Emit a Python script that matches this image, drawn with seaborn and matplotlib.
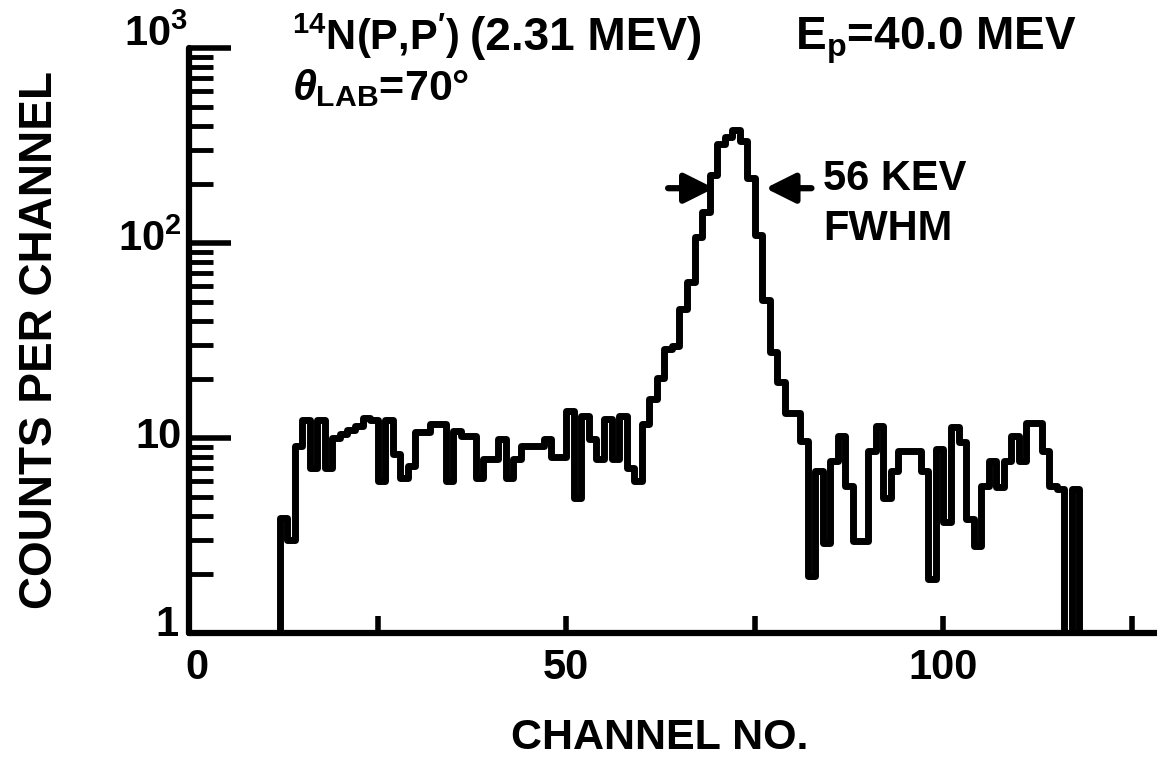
import numpy as np
import pandas as pd
import matplotlib
matplotlib.use("Agg")
import matplotlib.pyplot as plt
from matplotlib.ticker import LogLocator, NullFormatter
from matplotlib.transforms import ScaledTranslation
import seaborn as sns

# ---- data ----
first_channel = 11
counts = [
    0,                                                     # 11
    3.9, 3.0, 9.1, 12.3, 7.0, 12.3, 7.0, 10.0, 10.5,       # 12-20
    11.0, 11.5, 12.7, 12.3, 6.0, 12.3, 8.3, 6.2, 7.2, 10.7,  # 21-30
    10.7, 11.8, 11.8, 6.0, 10.8, 10.2, 10.2, 6.2, 7.8, 7.8,  # 31-40
    9.9, 6.2, 7.8, 9.1, 9.1, 9.1, 9.9, 8.0, 8.0, 13.8,       # 41-50
    4.9, 13.0, 9.9, 7.8, 12.5, 7.8, 13.0, 7.0, 6.0, 11.8,    # 51-60
    15.8, 20.4, 28.5, 29.5, 46, 63, 107, 145, 223, 323,      # 61-70
    350, 380, 335, 215, 110, 51, 27.5, 19.3, 13.5, 13.5,     # 71-80
    9.6, 1.95, 6.8, 2.9, 7.6, 10.2, 5.7, 2.95, 2.95, 8.6,    # 81-90
    11.5, 4.9, 6.8, 8.6, 8.6, 8.6, 6.8, 1.9, 8.8, 3.7,       # 91-100
    11.4, 9.5, 3.85, 2.8, 5.7, 7.6, 5.6, 7.6, 10.2, 7.6,     # 101-110
    12.0, 12.0, 8.6, 5.7, 5.5, 0, 5.5, 0,                    # 111-118
]
x_tick_positions = [0, 25, 50, 75, 100, 125]
x_tick_labels = ["0", "", "50", "", "100", ""]
y_tick_positions = [1, 10, 100, 1000]
y_tick_labels = ["1", "10", r"$\mathbf{10^2}$", r"$\mathbf{10^3}$"]
fwhm_level = 191
fwhm_left = (63.5, 69.6)
fwhm_right = (82.5, 76.4)

title_parts = [r"$^{\mathbf{14}}$N(P,P$^{\prime}$)", "(2.31 MEV)", r"E$_{\mathbf{p}}$=40.0 MEV"]
angle_text = r"$\theta_{\mathbf{LAB}}$=70°"
width_texts = ["56 KEV", "FWHM"]
x_label = "CHANNEL NO."
y_label = "COUNTS PER CHANNEL"

# ---- style ----
sns.set_style("ticks")
FONT = "Liberation Sans"
plt.rcParams["font.family"] = [FONT, "DejaVu Sans"]
plt.rcParams["font.weight"] = "bold"
plt.rcParams["text.color"] = "black"
plt.rcParams["mathtext.fontset"] = "custom"
plt.rcParams["mathtext.rm"] = FONT + ":bold"
plt.rcParams["mathtext.bf"] = FONT + ":bold"
plt.rcParams["mathtext.it"] = FONT + ":bold:italic"

W, H = 1157, 768
fig = plt.figure(figsize=(W / 100, H / 100), dpi=100)
fig.patch.set_facecolor("white")
ax = fig.add_axes([189 / W, (H - 633) / H, 1 - 189 / W, (633 - 48) / H])

edges = np.arange(first_channel, first_channel + len(counts) + 1)
vals = np.clip(np.array(counts, dtype=float), 0.3, None)
df = pd.DataFrame({"channel": edges, "counts": np.append(vals, vals[-1])})
ax.set_yscale("log")
sns.lineplot(data=df, x="channel", y="counts", drawstyle="steps-post",
             color="black", lw=5.0, ax=ax, solid_joinstyle="round",
             solid_capstyle="round")

ax.set_xlim(0, 128.3)
ax.set_ylim(1, 1000)
ax.set_xlabel("")
ax.set_ylabel("")
for s in ["top", "right"]:
    ax.spines[s].set_visible(False)
for s in ["left", "bottom"]:
    ax.spines[s].set_linewidth(4.5)
    ax.spines[s].set_color("black")
    ax.spines[s].set_capstyle("round")

ax.set_xticks(x_tick_positions, x_tick_labels)
ax.tick_params(axis="x", direction="in", length=12, width=4, pad=11,
               labelsize=30, colors="black")
ax.set_yticks(y_tick_positions, y_tick_labels)
ax.yaxis.set_minor_locator(LogLocator(base=10, subs=np.arange(2, 10)))
ax.yaxis.set_minor_formatter(NullFormatter())
ax.tick_params(axis="y", which="major", direction="in", length=30, width=4,
               pad=5, labelsize=30, colors="black")
ax.tick_params(axis="y", which="minor", direction="in", length=17, width=3.5,
               colors="black")

# small offsets of individual tick labels (in pixels) as in the reference
def shift(label, dx, dy):
    label.set_transform(label.get_transform() +
                        ScaledTranslation(dx / 100, dy / 100, fig.dpi_scale_trans))

ylabels = ax.get_yticklabels()
for lab, (dx, dy) in zip(ylabels, [(-4, 12), (0, 5), (0, 8), (6, 18)]):
    shift(lab, dx, dy)
shift(ax.get_xticklabels()[0], 8, 0)

# FWHM arrows
arrow_kw = dict(arrowstyle="-|>,head_length=0.9,head_width=0.45", lw=4.5,
                color="black", shrinkA=0, shrinkB=0, mutation_scale=20)
ax.annotate("", xy=(fwhm_left[1], fwhm_level), xytext=(fwhm_left[0], fwhm_level),
            arrowprops=arrow_kw)
ax.annotate("", xy=(fwhm_right[1], fwhm_level), xytext=(fwhm_right[0], fwhm_level),
            arrowprops=arrow_kw)

def ftext(px, py, s, **kw):
    fig.text(px / W, 1 - py / H, s, **kw)

ftext(292, 50, title_parts[0], ha="left", va="baseline", fontsize=30)
ftext(470, 50, title_parts[1], ha="left", va="baseline", fontsize=33)
ftext(795, 50, title_parts[2], ha="left", va="baseline", fontsize=33)
ftext(292, 100, angle_text, ha="left", va="baseline", fontsize=31)
ftext(823, 190, width_texts[0], ha="left", va="baseline", fontsize=30)
ftext(823, 240, width_texts[1], ha="left", va="baseline", fontsize=30)
ftext(660, 738, x_label, ha="center", va="center", fontsize=31)
ftext(40, 340, y_label, ha="center", va="center", rotation=90, fontsize=33)

fig.savefig("out.png", dpi=100, facecolor="white")
